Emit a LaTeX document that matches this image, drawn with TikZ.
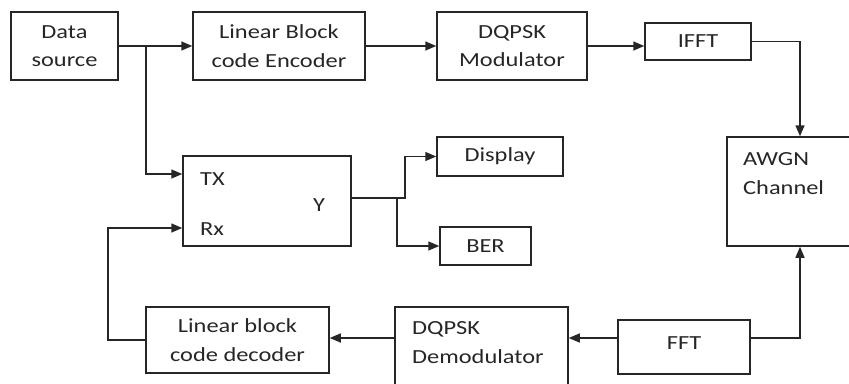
\documentclass[tikz,border=0pt]{standalone}
\usepackage{fontspec}
\setmainfont{Carlito}[FakeStretch=1.22]
\usetikzlibrary{arrows.meta}
\begin{document}
\begin{tikzpicture}[x=1pt,y=-1pt,
  box/.style={draw=black!85, line width=1.5pt, rectangle, inner sep=0pt},
  txt/.style={font=\fontsize{20}{28.5}\selectfont, text=black!85, align=center, inner sep=0pt},
  ltxt/.style={font=\fontsize{20}{28.5}\selectfont, text=black!85, align=left, inner sep=0pt},
  conn/.style={draw=black!85, line width=1.5pt, -{Triangle[length=11pt,width=9pt]}},
  wire/.style={draw=black!85, line width=1.5pt}]
\useasboundingbox (0,0) rectangle (849,383);
\begin{scope}
\clip (0,0) rectangle (849,383);
% top row
\node[box, txt, minimum width=107pt, minimum height=68pt] (ds) at (64.5,46) {Data\\source};
\node[box, txt, minimum width=172pt, minimum height=68pt] (enc) at (279,46) {Linear Block\\code Encoder};
\node[box, txt, minimum width=150pt, minimum height=68pt] (mod) at (512,46) {DQPSK\\Modulator};
\node[box, txt, minimum width=106pt, minimum height=37pt] (ifft) at (698,41.5) {IFFT};
% AWGN
\node[box, minimum width=146pt, minimum height=109pt] (awgn) at (800,191.5) {};
\node[ltxt, anchor=north west] (awgnt) at (743,152.5) {AWGN\\Channel};
% comparator
\node[box, minimum width=168pt, minimum height=90pt] (cmp) at (267,201) {};
\node[ltxt, anchor=base west] (tx) at (200,185) {TX};
\node[ltxt, anchor=base west] (rx) at (200,235) {Rx};
\node[ltxt, anchor=base west] (yy) at (313,211) {Y};
\node[box, txt, minimum width=126pt, minimum height=39pt] (disp) at (500,156.5) {Display};
\node[box, txt, minimum width=91pt, minimum height=38pt] (ber) at (485.5,246) {BER};
% bottom row
\node[box, txt, minimum width=183pt, minimum height=66pt] (dec) at (237.5,340) {Linear block\\code decoder};
\node[box, minimum width=173pt, minimum height=113pt] (demod) at (481.5,363.5) {};
\node[ltxt, anchor=north west] (demodt) at (412,321.5) {DQPSK\\Demodulator};
\node[box, txt, minimum width=132pt, minimum height=54pt] (fft) at (684,347) {\raisebox{7pt}{FFT}};
% connectors
\coordinate (bA) at (146,174);
\coordinate (low) at (0,338);
\coordinate (rxl) at (108,228);
\coordinate (yj) at (405,198);
\coordinate (bj) at (397,198);
\draw[conn] (ds.east) -- (enc.west);
\draw[conn] (ds.east -| bA) -- (bA) -- (bA -| cmp.west);
\draw[conn] (enc.east) -- (mod.west);
\draw[conn] (mod.east) -- (mod.east -| ifft.west);
\draw[conn] (ifft.east) -| (awgn.north);
\draw[conn] (fft.east |- low) -| (awgn.south);
\draw[conn] (fft.west |- low) -- (demod.east |- low);
\draw[conn] (demod.west |- low) -- (dec.east |- low);
\draw[conn] (dec.west) -| (rxl) -- (rxl -| cmp.west);
\draw[conn] (cmp.east |- yj) -- (yj) |- (disp.west);
\draw[conn] (bj) |- (ber.west);
\end{scope}
\end{tikzpicture}
\end{document}
